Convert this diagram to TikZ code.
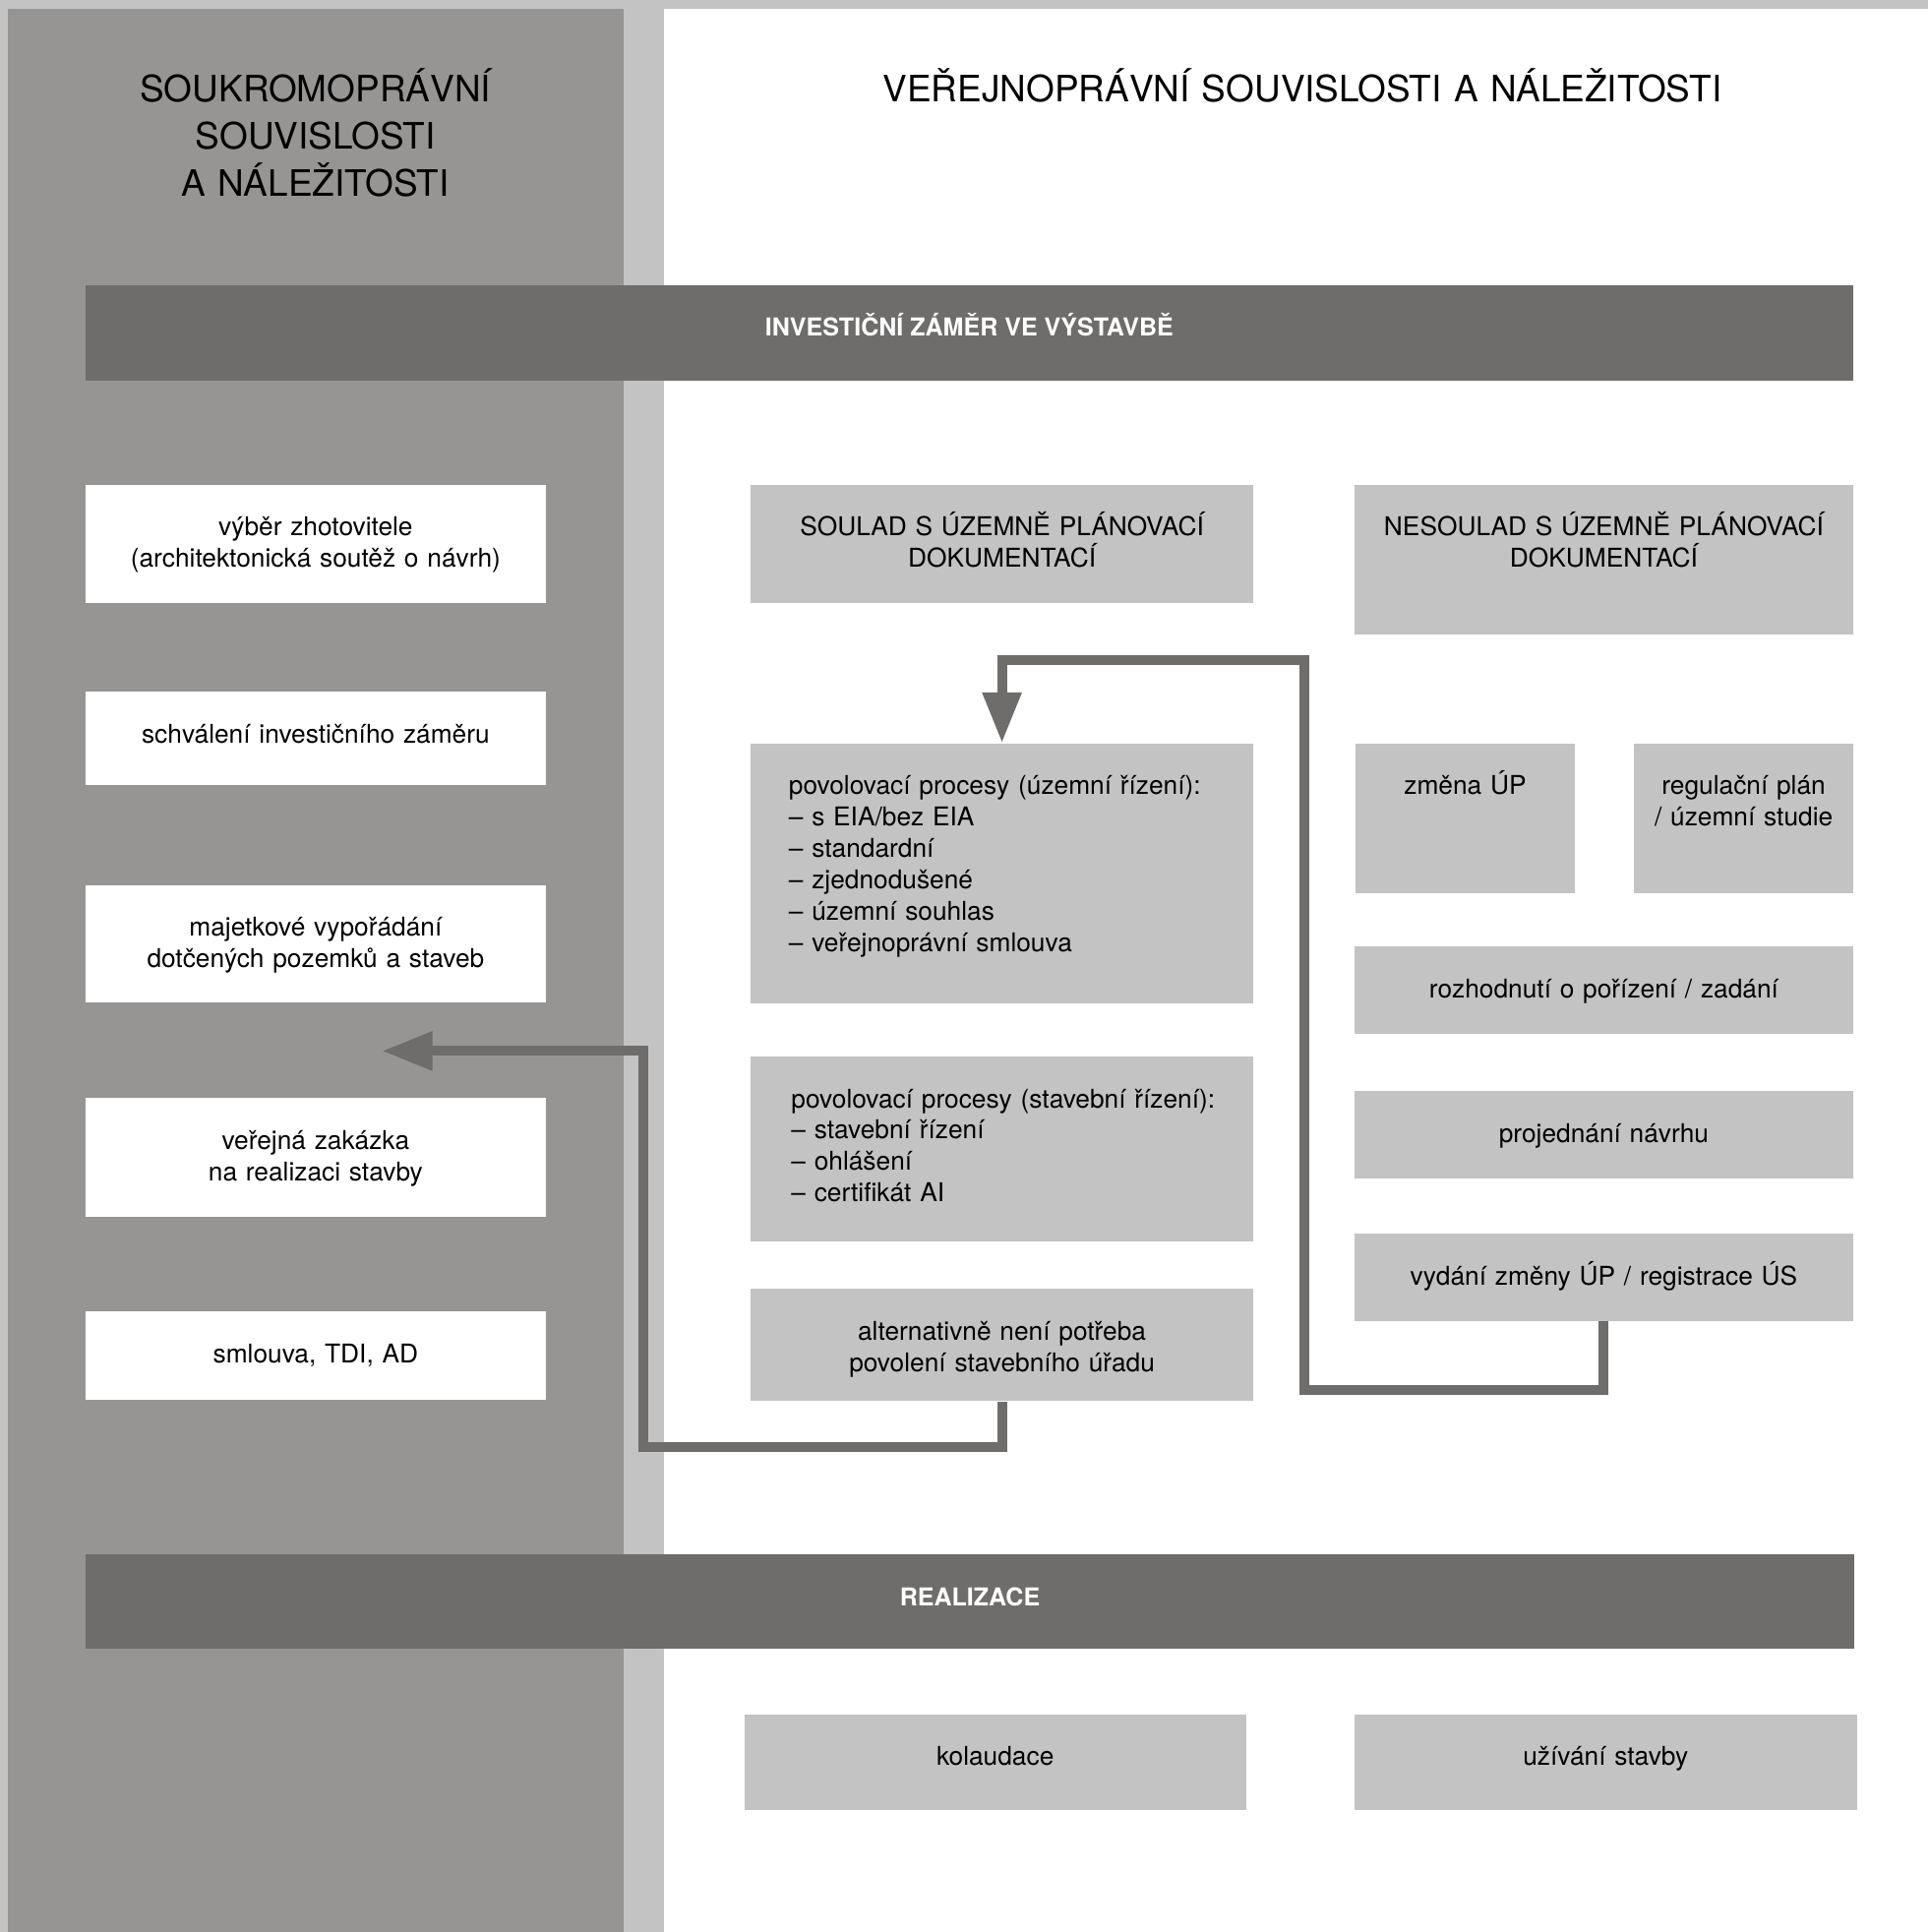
\documentclass[tikz,border=0pt]{standalone}
\usepackage{fontspec}
\setmainfont{TeX Gyre Heros}
\usetikzlibrary{arrows.meta,positioning}
\definecolor{lightgr}{HTML}{C3C3C3}
\definecolor{midgr}{HTML}{969594}
\definecolor{darkgr}{HTML}{6E6D6B}
\tikzset{
  box/.style={rectangle, inner sep=0pt, anchor=north west, fill=lightgr},
  wbox/.style={box, fill=white},
  bar/.style={box, fill=darkgr},
  txt/.style={inner sep=0pt, anchor=base, align=center, font=\fontsize{21}{25.5}\selectfont},
  listtxt/.style={txt, anchor=base west, align=left},
  bartxt/.style={inner sep=0pt, anchor=base, text=white, font=\fontsize{20}{24}\selectfont\bfseries},
  headtxt/.style={inner sep=0pt, anchor=base, align=center, font=\fontsize{29.5}{38}\selectfont},
  conn/.style={draw=darkgr, line width=8pt, -{Triangle[width=30pt,length=41pt]}},
}
\begin{document}
\begin{tikzpicture}[x=1pt, y=-1pt]
  \useasboundingbox (0,0) rectangle (1565,1568);
  \fill[lightgr] (0,0) rectangle (1565,1568);
  \fill[midgr] (6,7) rectangle (506,1568);
  \fill[white] (539,7) rectangle (1565,1568);

  % titles
  \node[headtxt, text width=480pt] (privatni) at (256,83) {SOUKROMOPRÁVNÍ\\SOUVISLOSTI\\A NÁLEŽITOSTI};
  \node[headtxt, text width=980pt] (verejne) at (1057,83) {VEŘEJNOPRÁVNÍ SOUVISLOSTI A NÁLEŽITOSTI};

  % bars
  \node[bar, minimum width=1435, minimum height=78] (zamer) at (69,231) {};
  \node[bartxt] (zamer-t) at ([yshift=-42pt]zamer.north) {INVESTIČNÍ ZÁMĚR VE VÝSTAVBĚ};
  \node[bar, minimum width=1436, minimum height=77] (realizace) at (69,1261) {};
  \node[bartxt] (realizace-t) at ([yshift=-42pt]realizace.north) {REALIZACE};

  % left column
  \node[wbox, minimum width=374, minimum height=96] (vyber) at (69,393) {};
  \node[txt, text width=374pt] (vyber-t) at ([yshift=-42pt]vyber.north) {výběr zhotovitele\\(architektonická soutěž o návrh)};
  \node[wbox, minimum width=374, minimum height=76] (schvaleni) at (69,561) {};
  \node[txt, text width=374pt] (schvaleni-t) at ([yshift=-42pt]schvaleni.north) {schválení investičního záměru};
  \node[wbox, minimum width=374, minimum height=95] (majetek) at (69,718) {};
  \node[txt, text width=374pt] (majetek-t) at ([yshift=-42pt]majetek.north) {majetkové vypořádání\\dotčených pozemků a staveb};
  \node[wbox, minimum width=374, minimum height=96] (zakazka) at (69,891) {};
  \node[txt, text width=374pt] (zakazka-t) at ([yshift=-42pt]zakazka.north) {veřejná zakázka\\na realizaci stavby};
  \node[wbox, minimum width=374, minimum height=72] (smlouva) at (69,1064) {};
  \node[txt, text width=374pt] (smlouva-t) at ([yshift=-42pt]smlouva.north) {smlouva, TDI, AD};

  % middle column
  \node[box, minimum width=408, minimum height=96] (soulad) at (609,393) {};
  \node[txt, text width=408pt] (soulad-t) at ([yshift=-42pt]soulad.north) {SOULAD S ÚZEMNĚ PLÁNOVACÍ\\DOKUMENTACÍ};
  \node[box, minimum width=408, minimum height=211] (uzemni) at (609,603) {};
  \node[listtxt, text width=370pt] (uzemni-t) at ([xshift=31pt, yshift=-42pt]uzemni.north west) {povolovací procesy (územní řízení):\\– s EIA/bez EIA\\– standardní\\– zjednodušené\\– územní souhlas\\– veřejnoprávní smlouva};
  \node[box, minimum width=408, minimum height=150] (stavebni) at (609,857) {};
  \node[listtxt, text width=370pt] (stavebni-t) at ([xshift=33pt, yshift=-42pt]stavebni.north west) {povolovací procesy (stavební řízení):\\– stavební řízení\\– ohlášení\\– certifikát AI};
  \node[box, minimum width=408, minimum height=91] (alternativa) at (609,1046) {};
  \node[txt, text width=408pt] (alternativa-t) at ([yshift=-42pt]alternativa.north) {alternativně není potřeba\\povolení stavebního úřadu};

  % right column
  \node[box, minimum width=405, minimum height=122] (nesoulad) at (1099,393) {};
  \node[txt, text width=405pt] (nesoulad-t) at ([yshift=-42pt]nesoulad.north) {NESOULAD S ÚZEMNĚ PLÁNOVACÍ\\DOKUMENTACÍ};
  \node[box, minimum width=178, minimum height=122] (zmena) at (1100,603) {};
  \node[txt, text width=178pt] (zmena-t) at ([yshift=-42pt]zmena.north) {změna ÚP};
  \node[box, minimum width=178, minimum height=122] (regulace) at (1326,603) {};
  \node[txt, text width=178pt] (regulace-t) at ([yshift=-42pt]regulace.north) {regulační plán\\/ územní studie};
  \node[box, minimum width=405, minimum height=71] (porizeni) at (1099,768) {};
  \node[txt, text width=405pt] (porizeni-t) at ([yshift=-42pt]porizeni.north) {rozhodnutí o pořízení / zadání};
  \node[box, minimum width=405, minimum height=71] (projednani) at (1099,885) {};
  \node[txt, text width=405pt] (projednani-t) at ([yshift=-42pt]projednani.north) {projednání návrhu};
  \node[box, minimum width=405, minimum height=71] (vydani) at (1099,1001) {};
  \node[txt, text width=405pt] (vydani-t) at ([yshift=-42pt]vydani.north) {vydání změny ÚP / registrace ÚS};

  % bottom row
  \node[box, minimum width=407, minimum height=78] (kolaudace) at (604,1391) {};
  \node[txt, text width=407pt] (kolaudace-t) at ([yshift=-42pt]kolaudace.north) {kolaudace};
  \node[box, minimum width=408, minimum height=78] (uzivani) at (1099,1391) {};
  \node[txt, text width=408pt] (uzivani-t) at ([yshift=-42pt]uzivani.north) {užívání stavby};

  % connectors
  \coordinate (smer-vlevo) at (310,853);
  \draw[conn] (vydani.south) |- ++(-243,56) -- ++(0,-593) -| (uzemni.north);
  \draw[conn] (alternativa.south) |- ++(-291,37) |- (smer-vlevo);
\end{tikzpicture}
\end{document}
